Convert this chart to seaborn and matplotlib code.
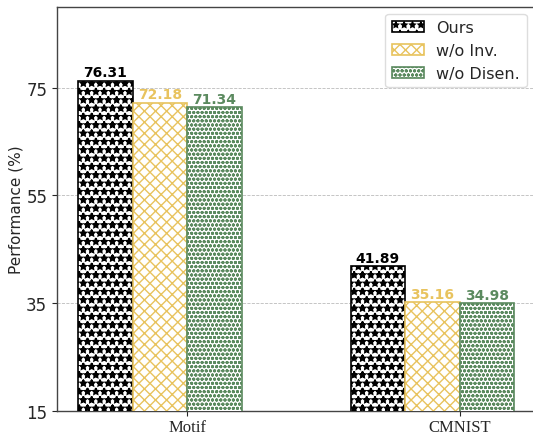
import matplotlib
matplotlib.use("Agg")
import matplotlib.pyplot as plt
import seaborn as sns
import pandas as pd

datasets = ["Motif", "CMNIST"]
methods = ["Ours", "w/o Inv.", "w/o Disen."]
ours = [76.31, 41.89]
wo_inv = [72.18, 35.16]
wo_disen = [71.34, 34.98]
yticks = [15, 35, 55, 75]

colors = ["#000000", "#E8C35E", "#5B8A5F"]
hatches = ["**", "xxx", "oooo"]
hatch_widths = [1.3, 1.0, 1.0]

rows = []
for m, vals in zip(methods, [ours, wo_inv, wo_disen]):
    for d, v in zip(datasets, vals):
        rows.append({"Dataset": d, "Method": m, "Performance": v})
df = pd.DataFrame(rows)

sns.set_style("ticks")
plt.rcParams["font.family"] = ["DejaVu Sans"]
plt.rcParams["hatch.linewidth"] = 1.0

fig = plt.figure(figsize=(5.33, 4.35), dpi=100)
ax = fig.add_axes([0.107, 0.053, 0.96, 0.929])

sns.barplot(data=df, x="Dataset", y="Performance", hue="Method",
            order=datasets, hue_order=methods, palette=colors,
            width=0.6, legend=False, ax=ax, errorbar=None, zorder=3)

for cont, col, h, hw in zip(ax.containers, colors, hatches, hatch_widths):
    for p in cont.patches:
        p.set_facecolor("white")
        p.set_edgecolor(col)
        p.set_hatch(h)
        if hasattr(p, "set_hatch_linewidth"):
            p.set_hatch_linewidth(hw)
        p.set_linewidth(1.2)
    ax.bar_label(cont, fmt="%.2f", padding=1, color=col,
                 fontweight="bold", fontsize=10)

ax.set_ylim(15, 90)
ax.set_yticks(yticks)
ax.set_yticklabels([str(t) for t in yticks], fontsize=12)
ax.set_xlim(-0.377, 1.5)
ax.set_xticks([0.1, 1.1])
ax.set_xticklabels(datasets, fontsize=12, family="Liberation Serif")
ax.tick_params(axis="x", pad=2)
ax.set_xlabel("")
ax.set_ylabel("Performance (%)", fontsize=11, labelpad=2)
ax.yaxis.grid(True, linestyle="--", color="#bbbbbb", linewidth=0.6, zorder=0)
ax.set_axisbelow(True)

for s in ["left", "bottom", "top", "right"]:
    ax.spines[s].set_color("#444444")
    ax.spines[s].set_linewidth(1.0)

handles = [c.patches[0] for c in ax.containers]
fig.legend(handles=handles, labels=methods, loc="upper right",
           bbox_to_anchor=(1.003, 0.985), fontsize=11.5,
           frameon=True, fancybox=True, framealpha=1.0,
           edgecolor="#dddddd", handlelength=2.0)

fig.savefig("out.png", dpi=100)
